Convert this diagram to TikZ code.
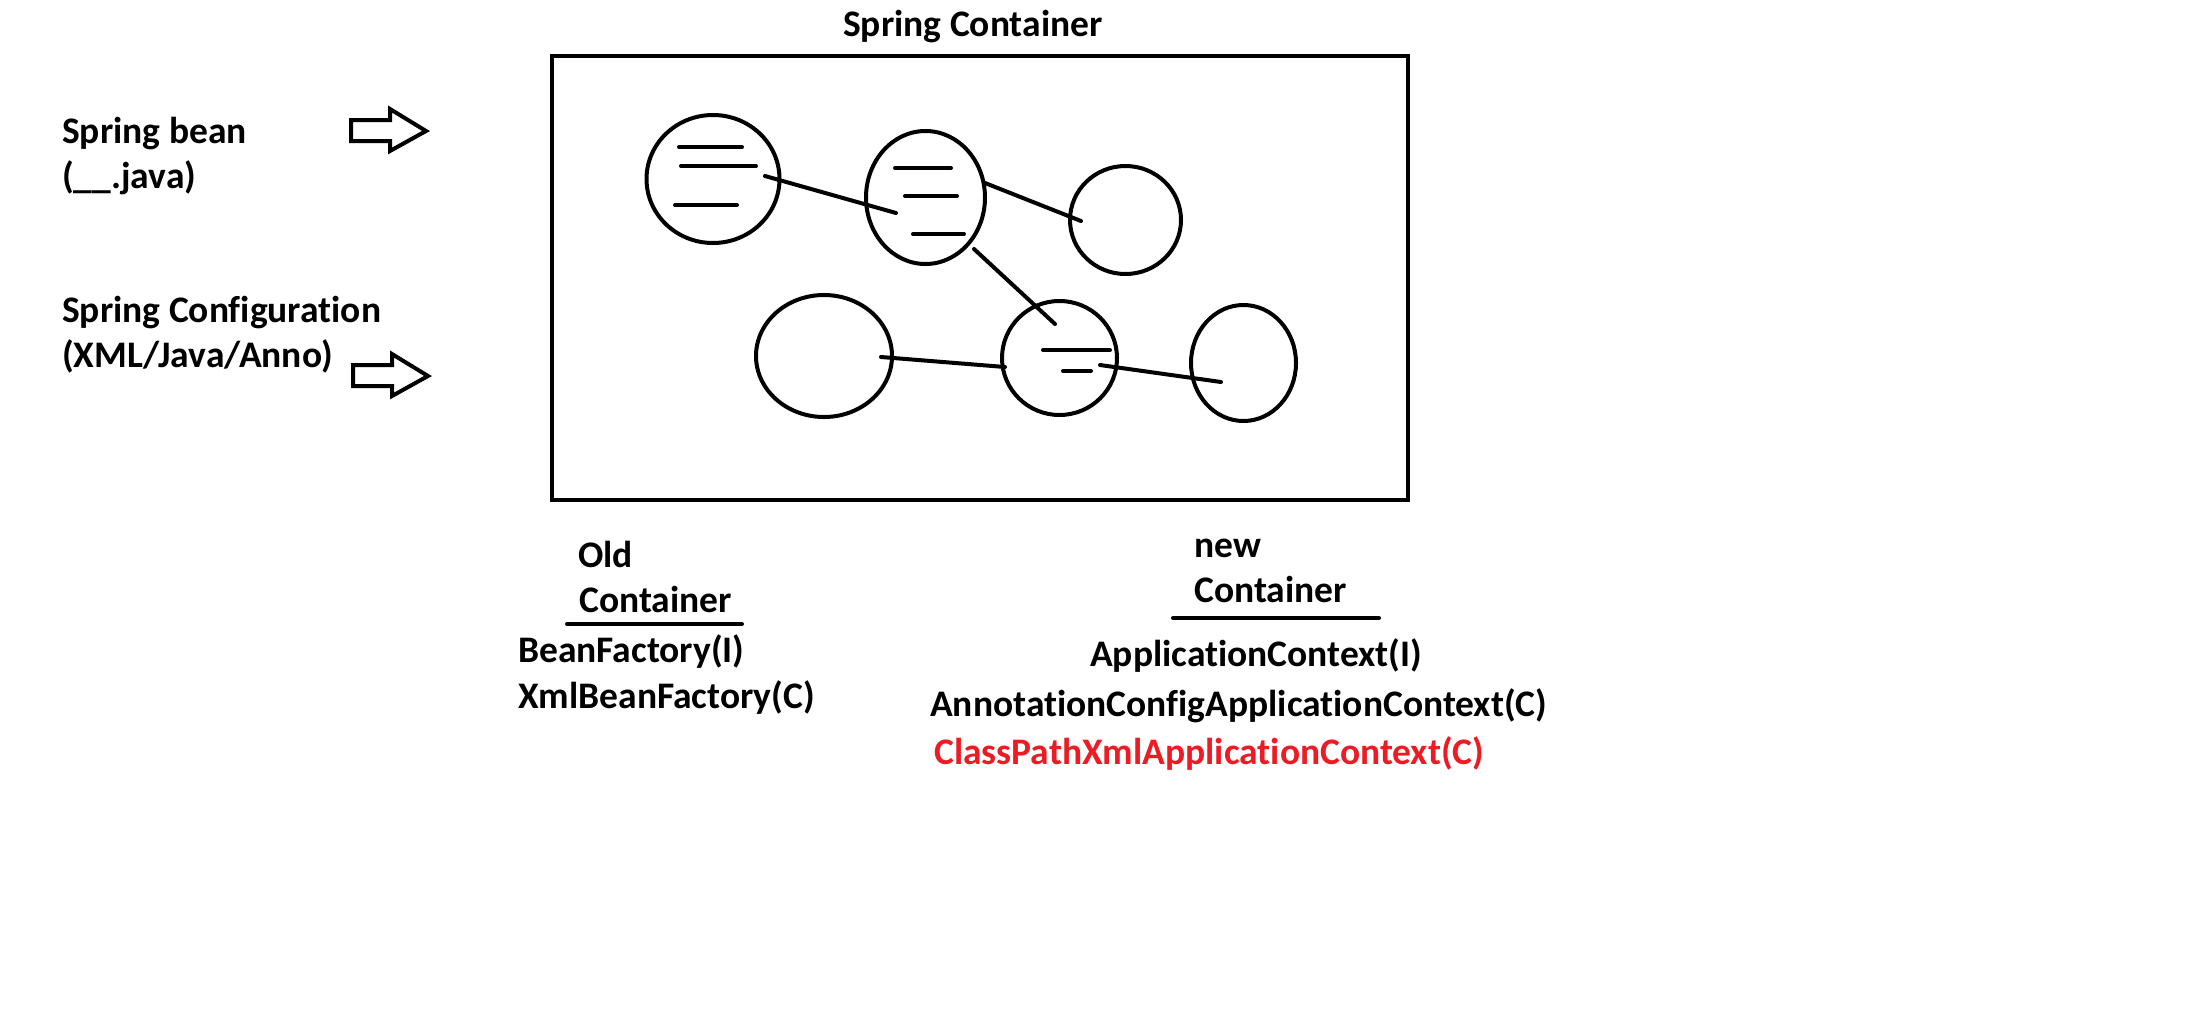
\documentclass[tikz,border=0pt]{standalone}
\usepackage{fontspec}
\setmainfont{Carlito}[RawFeature={-liga;-clig;-calt;-dlig}]
\usetikzlibrary{shapes.geometric}
\definecolor{paintred}{RGB}{237,28,36}
\begin{document}
\begin{tikzpicture}
[x=1pt,y=-1pt,
  beandecorate/.style={shape=ellipse,inner sep=0pt,draw,line width=4pt},%
  linedecorate/.style={-,line width=4pt,line cap=round},%
  textdecorate/.style={anchor=base west,inner sep=0pt,font=\fontsize{37.5}{45}\selectfont\bfseries},%
  boxdecorate/.style={draw,line width=4.5pt},%
  arrowdecorate/.style={draw,line width=4pt,line join=miter}]
\useasboundingbox (0,0) rectangle (2208,1010);
%% container
\draw[boxdecorate] (552,56) rectangle (1408,500);
%% beans
\foreach \nodename/\x/\y/\w/\h in {
  b1/713/179/133/128, b2/925.5/197.5/119/133, b3/1125.5/220/111/108,
  b4/824/356/136/122, b5/1059.5/358/115/114, b6/1243.5/363/105/116} {
  \node (\nodename) at (\x,\y) [beandecorate,minimum width=\w pt,minimum height=\h pt] {};
}
%% bars in beans
\foreach \xa/\xb/\y in {679/742/147, 681/756/166, 675/737/205,
  895/951/168, 905/957/196, 913/964/234, 1043/1110/350, 1063/1091/371} {
  \draw[linedecorate] (\xa,\y) -- (\xb,\y);
}
%% wire ends
\foreach \pointname/\x/\y in {b1out/765/176, b2in/896/213, b2out/985/183,
  b3in/1081/221, b2low/974/249, b5top/1055/324, b4out/881/357,
  b5in/1005/367, b5out/1100/365, b6in/1221/382} {
  \coordinate (\pointname) at (\x,\y);
}
%% wires
\path
\foreach \startnode/\endnode in {b1out/b2in, b2out/b3in, b2low/b5top,
  b4out/b5in, b5out/b6in} {
  (\startnode) edge[linedecorate] (\endnode)
};
%% input arrows
\foreach \dx/\dy in {0/0, 2/245} {
  \draw[arrowdecorate,shift={(\dx,\dy)}] (351,120) -- (390,120) -- (390,109)
    -- (426,131) -- (390,151) -- (390,141) -- (351,141) -- cycle;
}
%% texts
\foreach \nodename/\nodelabel/\x/\y in {
  title/Spring Container/843/36, bean/Spring bean/62/143,
  beanfile/(\_\_.java)/62/188, config/Spring Configuration/62/322,
  configkind/{(XML/Java/Anno)}/62/367, old/Old/578/567,
  oldcont/Container/579/612, bf/BeanFactory(I)/518/662,
  xbf/XmlBeanFactory(C)/518/708, new/new/1194/557,
  newcont/Container/1194/602, ac/ApplicationContext(I)/1090/666,
  acac/AnnotationConfigApplicationContext(C)/930/716} {
  \node (\nodename) at (\x,\y) [textdecorate] {\nodelabel};
}
\node (cpac) at (934,764) [textdecorate,text=paintred] {ClassPathXmlApplicationContext(C)};
%% underlines
\draw[linedecorate] (567,624) -- (742,624);
\draw[linedecorate] (1173,618) -- (1379,618);
\end{tikzpicture}
\end{document}
